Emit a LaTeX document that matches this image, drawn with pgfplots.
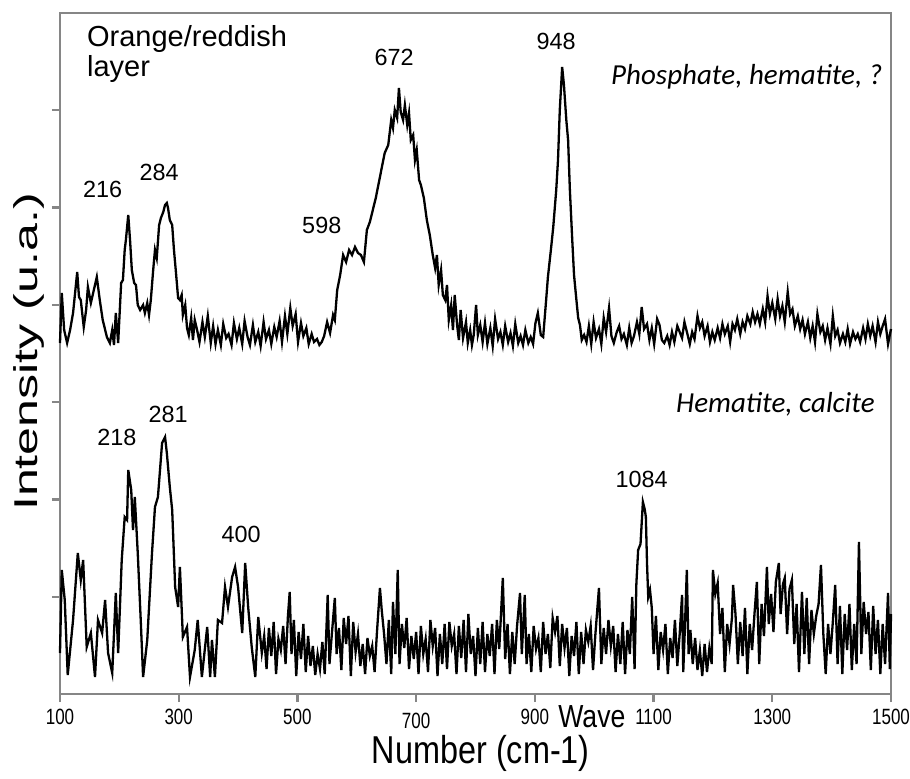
\documentclass[border=0pt]{standalone}
\usepackage{pgfplots}
\pgfplotsset{compat=1.18}
\usepackage{graphicx}
\usepackage{fontspec}
\setmainfont{Liberation Sans}
\newfontfamily\carlito{Carlito}
\definecolor{axisgray}{RGB}{134,134,134}
\newcommand{\tl}[1]{\scalebox{1}[1.3]{#1}}
\begin{document}
\begin{tikzpicture}
\useasboundingbox (-30pt,-42pt) rectangle (425pt,347pt);
\begin{axis}[
  scale only axis, width=415.5pt, height=340.5pt,
  xmin=100, xmax=1500, ymin=0, ymax=681,
  axis line style={draw=axisgray, line width=1.2pt},
  tick style={draw=axisgray, line width=1.2pt},
  tick align=outside, major tick length=4pt,
  xtick={100,300,500,700,900,1100,1300,1500},
  xticklabels={\tl{100},\tl{300},\tl{500},\raisebox{-2pt}[\height]{\tl{700}},\tl{900},\tl{1100},\tl{1300},\tl{1500}},
  ytick={97.3,194.6,291.9,389.2,486.5,583.8},
  yticklabels={},
  xtick pos=bottom, ytick pos=left,
  clip=false,
  xticklabel style={font=\fontsize{8.5}{10}\selectfont},
]
% upper spectrum
\addplot[black, line width=1.15pt, mark=none] table {
100 351
103 401
107 364
112 351
117 364
122 381
129 422
132 397
135 394
140 367
144 384
147 407
152 391
157 404
162 417
167 394
172 374
179 357
184 351
188 364
191 349
194 381
198 351
203 411
206 414
209 444
211 454
215 479
218 454
221 424
225 411
228 409
231 389
235 384
240 389
243 381
247 391
250 379
253 394
257 424
260 444
263 436
267 469
270 476
274 482
277 489
280 491
282 486
285 474
289 469
292 444
295 424
299 396
302 394
305 399
307 379
311 389
314 366
317 359
321 376
324 354
327 374
331 364
335 352
340 372
344 357
349 378
354 351
358 368
362 350
366 364
371 349
375 370
380 356
384 360
389 349
393 371
398 355
402 366
407 350
411 373
416 357
420 349
425 369
429 352
434 362
438 348
443 372
447 355
452 364
456 350
461 367
465 357
470 373
474 352
479 378
483 360
488 386
492 368
497 380
501 352
506 371
510 358
515 366
519 350
524 360
528 352
533 355
537 349
541 352
545 358
550 372
555 361
560 379
563 374
567 404
572 419
577 439
582 432
587 444
592 439
597 447
602 441
607 439
612 432
617 464
622 472
627 484
632 496
637 511
642 526
647 541
653 549
658 574
661 566
664 584
668 576
671 606
674 582
678 574
681 589
685 569
688 581
691 554
695 559
698 534
701 544
705 514
708 509
713 496
718 474
723 459
728 439
732 426
735 439
738 409
742 424
745 399
749 394
752 409
755 374
759 389
762 364
765 399
769 369
772 354
775 384
779 356
784 372
787 351
791 364
794 349
797 359
801 389
804 359
808 369
812 352
816 371
820 350
825 366
829 348
833 375
838 355
842 362
846 349
850 368
855 352
859 361
863 348
867 370
872 351
876 358
880 349
884 364
889 351
893 357
897 350
901 371
905 381
910 359
914 357
919 394
922 417
927 444
931 467
936 504
939 534
942 584
946 627
949 609
953 574
956 554
959 504
963 454
966 419
970 394
973 376
976 369
979 354
983 359
987 352
991 368
995 350
999 372
1003 356
1008 365
1012 350
1016 376
1020 362
1025 386
1029 358
1033 351
1038 362
1042 368
1046 355
1050 360
1055 349
1059 366
1063 351
1067 358
1072 372
1076 360
1080 387
1084 365
1089 370
1093 354
1097 366
1101 350
1106 375
1110 369
1114 354
1118 351
1123 358
1127 349
1131 362
1135 352
1140 368
1144 362
1148 356
1152 372
1157 360
1161 350
1165 362
1169 355
1174 378
1178 366
1182 372
1186 358
1191 368
1195 352
1199 362
1203 354
1208 366
1212 356
1216 370
1220 360
1225 368
1229 352
1233 370
1237 364
1241 375
1246 360
1250 372
1254 365
1258 378
1263 370
1267 382
1271 372
1275 380
1279 370
1284 385
1288 372
1292 398
1296 380
1300 391
1305 375
1309 395
1313 378
1317 388
1321 372
1326 402
1330 380
1334 385
1338 368
1343 378
1347 365
1351 374
1355 360
1360 372
1364 356
1368 368
1372 352
1376 380
1381 362
1385 368
1389 354
1393 366
1398 350
1402 378
1406 358
1410 364
1414 351
1419 360
1423 352
1427 365
1431 350
1436 362
1440 355
1444 360
1448 352
1453 366
1457 355
1461 370
1465 358
1469 368
1474 352
1478 372
1482 360
1486 368
1490 375
1495 350
1500 365
};
% lower spectrum
\addplot[black, line width=1.15pt, mark=none] table {
100 41
103 124
108 94
113 19
122 74
130 141
135 114
139 134
145 47
152 61
159 17
164 74
171 61
176 94
181 41
188 21
194 101
198 41
204 134
209 177
213 174
215 224
220 204
223 164
226 197
231 141
236 74
240 17
247 54
255 141
260 187
265 197
272 251
277 257
280 241
285 207
289 184
294 107
299 87
302 127
307 57
314 67
319 17
327 44
332 74
339 17
348 67
353 17
356 54
361 17
366 74
373 71
378 107
383 87
390 117
395 127
400 107
407 61
412 131
417 87
423 47
429 17
434 77
440 41
444 58
448 25
452 66
456 38
460 72
464 20
468 55
472 44
476 68
480 30
484 78
487 102
490 40
494 74
498 18
502 62
506 35
510 70
514 22
518 58
522 28
526 48
530 19
534 40
538 25
542 52
546 20
551 99
554 30
558 60
563 96
566 40
570 66
574 24
578 76
582 50
586 78
590 18
594 72
598 42
602 60
606 28
610 50
614 20
618 56
622 38
626 48
630 22
634 62
639 106
642 84
646 60
650 30
654 74
658 20
661 92
665 40
669 124
672 30
676 70
680 46
684 76
688 25
692 58
696 35
700 62
704 20
708 68
712 40
716 55
720 22
724 74
728 48
732 66
736 18
740 60
744 30
748 70
752 25
756 72
760 48
764 60
768 20
772 68
776 36
780 74
784 22
788 80
792 40
796 58
800 18
804 66
808 30
812 72
816 22
820 60
824 38
828 70
832 20
836 74
840 45
846 116
850 35
854 70
858 20
862 62
866 30
870 68
875 101
878 40
883 99
886 30
890 60
894 22
898 68
902 45
906 56
910 22
914 72
918 40
922 60
926 26
930 76
934 62
938 78
942 28
946 70
950 46
954 66
958 18
962 58
966 38
970 72
974 20
978 62
982 30
986 64
990 52
994 68
998 24
1002 60
1008 106
1012 30
1016 66
1020 40
1024 74
1028 48
1032 68
1036 22
1040 60
1044 30
1048 72
1052 20
1056 64
1060 40
1064 97
1068 25
1071 110
1074 144
1078 150
1082 192
1085 185
1087 177
1089 130
1091 97
1094 104
1097 86
1100 40
1104 78
1108 24
1112 62
1116 44
1120 70
1124 20
1128 56
1132 36
1136 74
1140 28
1144 60
1148 99
1150 22
1153 70
1156 124
1159 40
1162 64
1166 30
1170 56
1174 24
1178 44
1182 18
1186 50
1190 22
1194 46
1198 30
1200 124
1204 100
1208 111
1212 60
1216 86
1220 22
1224 70
1228 50
1232 76
1234 109
1238 80
1242 30
1246 72
1250 38
1254 86
1258 20
1262 70
1266 44
1270 80
1274 112
1278 30
1282 90
1286 58
1291 127
1294 70
1298 100
1302 62
1306 112
1311 131
1314 80
1318 110
1321 116
1325 60
1329 105
1333 114
1337 50
1341 90
1345 22
1350 102
1354 40
1358 96
1362 30
1366 84
1370 60
1374 78
1378 90
1382 129
1386 60
1390 20
1394 70
1398 40
1402 72
1406 109
1410 30
1414 88
1418 20
1422 80
1426 44
1430 90
1434 24
1438 70
1442 30
1446 152
1450 40
1454 92
1458 60
1462 82
1466 24
1470 88
1474 40
1478 74
1482 20
1486 70
1490 30
1495 101
1498 25
1500 80
};
% annotations
\begin{scope}[every node/.style={inner sep=0pt}]
\node[anchor=base west, font=\fontsize{14.5}{17}\selectfont] at (axis cs:145,647) {Orange/reddish};
\node[anchor=base west, font=\fontsize{14.5}{17}\selectfont] at (axis cs:145,617) {layer};
\node[anchor=base, font=\fontsize{11.7}{14}\selectfont] at (axis cs:172,497) {216};
\node[anchor=base, font=\fontsize{11.7}{14}\selectfont] at (axis cs:267,514) {284};
\node[anchor=base, font=\fontsize{11.7}{14}\selectfont] at (axis cs:541,461) {598};
\node[anchor=base, font=\fontsize{11.7}{14}\selectfont] at (axis cs:663,628) {672};
\node[anchor=base, font=\fontsize{11.7}{14}\selectfont] at (axis cs:936,644) {948};
\node[anchor=base, font=\fontsize{11.7}{14}\selectfont] at (axis cs:196,249) {218};
\node[anchor=base, font=\fontsize{11.7}{14}\selectfont] at (axis cs:282,272) {281};
\node[anchor=base, font=\fontsize{11.7}{14}\selectfont] at (axis cs:405,152) {400};
\node[anchor=base, font=\fontsize{11.7}{14}\selectfont] at (axis cs:1080,207) {1084};
\node[anchor=base east, font=\carlito\itshape\fontsize{14.5}{17}\selectfont] at (axis cs:1486,609) {Phosphate, hematite, ?};
\node[anchor=base east, font=\carlito\itshape\fontsize{14.5}{17}\selectfont] at (axis cs:1473,282) {Hematite, calcite};
\node[anchor=center, font=\fontsize{13.3}{16}\selectfont] at ([yshift=-11.5pt]axis cs:996,0) {\scalebox{1}[1.2]{Wave}};
\node[anchor=center, font=\fontsize{16.2}{19}\selectfont] at ([yshift=-29.5pt]axis cs:809,0) {\scalebox{1}[1.2]{Number (cm-1)}};
\node[anchor=center, rotate=90, font=\fontsize{16.5}{19}\selectfont] at ([xshift=-15.5pt]axis cs:100,342) {\scalebox{1.52}[1]{Intensity (u.a.)}};
\end{scope}
\end{axis}
\end{tikzpicture}
\end{document}
